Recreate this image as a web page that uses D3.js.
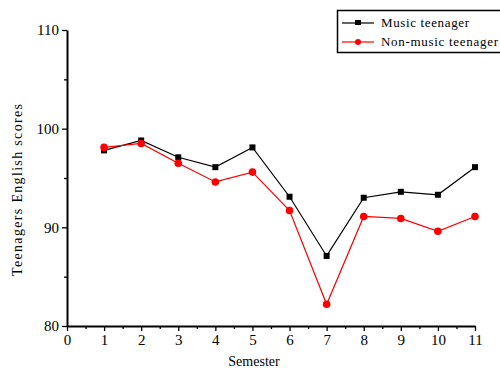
<!DOCTYPE html>
<html>
<head>
<meta charset="utf-8">
<script src="https://cdn.jsdelivr.net/npm/d3@7"></script>
<style>
  body { margin: 0; background: #fff; }
  svg { display: block; }
  svg text { font-family: "Liberation Serif", "DejaVu Serif", serif; fill: #000; }
</style>
</head>
<body>
<script>
const semesters = [1, 2, 3, 4, 5, 6, 7, 8, 9, 10, 11]
const musicScores = [97.8, 98.8, 97.1, 96.1, 98.1, 93.1, 87.1, 93.0, 93.6, 93.3, 96.1]
const nonMusicScores = [98.1, 98.5, 96.5, 94.6, 95.6, 91.7, 82.2, 91.1, 90.9, 89.6, 91.1]
const xTicks = [0, 1, 2, 3, 4, 5, 6, 7, 8, 9, 10, 11]
const yTicks = [80, 90, 100, 110]
const seriesNames = ['Music teenager', 'Non-music teenager']

const w = 500
const h = 370
const svg = d3.select('body').append('svg').attr('width', w).attr('height', h)

const x = d3.scaleLinear().domain([0, 11]).range([67, 475])
const y = d3.scaleLinear().domain([80, 110]).range([326, 30])

// minor ticks first, so the major ones sit on top
svg.append('g')
	.attr('transform', `translate(0, ${y(80)})`)
	.call(d3.axisBottom(x).tickValues(d3.range(0.5, 11, 1)).tickSize(3).tickFormat(''))
	.call(g => g.select('.domain').remove())
svg.append('g')
	.attr('transform', `translate(${x(0)}, 0)`)
	.call(d3.axisLeft(y).tickValues([85, 95, 105]).tickSize(3).tickFormat(''))
	.call(g => g.select('.domain').remove())

svg.append('g')
	.attr('transform', `translate(0, ${y(80)})`)
	.call(d3.axisBottom(x).tickValues(xTicks).tickSize(5).tickSizeOuter(0).tickPadding(3))
svg.append('g')
	.attr('transform', `translate(${x(0)}, 0)`)
	.call(d3.axisLeft(y).tickValues(yTicks).tickSize(5).tickSizeOuter(0).tickPadding(3))

svg.selectAll('g').attr('font-family', null).attr('font-size', null)
svg.selectAll('.domain').attr('stroke', '#000').attr('stroke-width', 2)
svg.selectAll('.tick line').attr('stroke', '#000').attr('stroke-width', 1.3)
svg.selectAll('.tick text').style('font-size', '15px')

// axis titles
svg.append('text')
	.attr('x', 254).attr('y', 366)
	.attr('text-anchor', 'middle')
	.style('font-size', '14px')
	.text('Semester')
svg.append('text')
	.attr('transform', 'translate(22, 190) rotate(-90)')
	.attr('text-anchor', 'middle')
	.style('font-size', '14px')
	.attr('textLength', 172)
	.text('Teenagers English scores')

const line = d3.line().x((d, i) => x(semesters[i])).y(d => y(d))

const colors = ['#000', '#ff0000']
const allSeries = [musicScores, nonMusicScores]

allSeries.forEach((vals, k) => {
	svg.append('path')
		.datum(vals)
		.attr('fill', 'none')
		.attr('stroke', colors[k])
		.attr('stroke-width', 1.2)
		.attr('d', line)
})

// markers
svg.selectAll('rect.music')
	.data(musicScores)
	.enter().append('rect')
	.attr('class', 'music')
	.attr('x', (d, i) => x(semesters[i]) - 3)
	.attr('y', d => y(d) - 3)
	.attr('width', 6).attr('height', 6)
	.attr('fill', '#000')
svg.selectAll('circle.nonmusic')
	.data(nonMusicScores)
	.enter().append('circle')
	.attr('class', 'nonmusic')
	.attr('cx', (d, i) => x(semesters[i]))
	.attr('cy', d => y(d))
	.attr('r', 3.8)
	.attr('fill', '#ff0000')

// legend
const legend = svg.append('g')
legend.append('rect')
	.attr('x', 337.5).attr('y', 10.5)
	.attr('width', 170).attr('height', 42)
	.attr('fill', '#fff')
	.attr('stroke', '#000')
	.attr('stroke-width', 1.5)
const legendLengths = [88, 117]
seriesNames.forEach((name, k) => {
	const ly = 23 + k * 19
	legend.append('line')
		.attr('x1', 342).attr('x2', 374)
		.attr('y1', ly).attr('y2', ly)
		.attr('stroke', colors[k]).attr('stroke-width', 1.2)
	if (k === 0) {
		legend.append('rect').attr('x', 355).attr('y', ly - 3).attr('width', 6).attr('height', 5).attr('fill', '#000')
	} else {
		legend.append('circle').attr('cx', 358).attr('cy', ly).attr('r', 3).attr('fill', '#ff0000')
	}
	legend.append('text')
		.attr('x', 381).attr('y', ly + 4)
		.style('font-size', '13px')
		.attr('textLength', legendLengths[k])
		.text(name)
})
</script>
</body>
</html>
